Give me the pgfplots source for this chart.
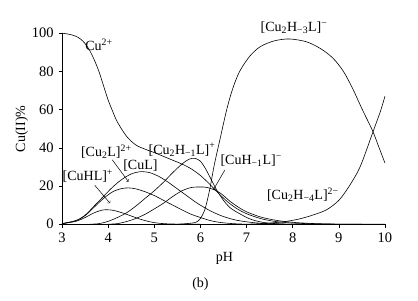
\documentclass[border=0pt]{standalone}
\usepackage{pgfplots}
\pgfplotsset{compat=1.18}
\usepackage{fontspec}
\setmainfont{Liberation Serif}
\begin{document}
\fontsize{14}{16}\selectfont
\begin{tikzpicture}
\begin{axis}[
  scale only axis, width=323pt, height=191pt,
  xmin=3, xmax=10, ymin=0, ymax=100,
  axis x line*=bottom, axis y line*=left,
  xtick={3,4,...,10}, ytick={0,20,...,100},
  tick align=outside, major tick length=3.5pt,
  tick style={black, line width=0.5pt},
  axis line style={line width=0.6pt},
  /pgf/number format/assume math mode=true,
  ticklabel style={font=\fontsize{14.5}{16}\selectfont},
  clip=false,
  cycle list={{black, solid, line width=0.6pt}},
  every axis plot post/.append style={black, solid, line width=0.6pt, smooth, mark=none},
]
\path (axis cs:1.656,-40.2) rectangle (axis cs:10.716,117.4);
% Cu2+
\addplot coordinates {(3,100)(3.1,99.7)(3.2,99.2)(3.3,98.4)(3.4,97)(3.5,94.6)(3.6,91)(3.7,86)(3.8,80)(3.9,72.5)(4.0,65)(4.1,59)(4.2,53.5)(4.4,46)(4.6,41.5)(4.8,39.3)(5.0,37.5)(5.2,35.5)(5.4,33.5)(5.6,31.5)(5.8,29)(6.0,25.5)(6.2,21)(6.4,16)(6.6,11.5)(6.8,8)(7.0,5.5)(7.3,3)(7.6,1.5)(8,0.6)(8.5,0.2)(9,0.05)(10,0)};
% CuHL+
\addplot coordinates {(3,0.3)(3.3,1.5)(3.5,3.5)(3.7,6)(3.9,7.5)(4.1,7.3)(4.3,6)(4.5,4.3)(4.7,2.6)(4.9,1.3)(5.1,0.5)(5.4,0.1)(6,0)};
% C
\addplot coordinates {(3,0.3)(3.3,1.8)(3.5,4.5)(3.7,9)(3.9,13.5)(4.1,17)(4.3,18.7)(4.45,19)(4.6,18.5)(4.8,17)(5,15)(5.2,12.5)(5.4,10)(5.6,7.5)(5.8,5.2)(6,3.5)(6.2,2)(6.4,1)(6.7,0.3)(7,0)};
% D
\addplot coordinates {(3,0.3)(3.3,1.9)(3.5,4.7)(3.7,9.6)(3.9,14.6)(4.1,19.5)(4.3,23.5)(4.5,26.3)(4.7,27.5)(4.9,27)(5.1,25)(5.3,22)(5.5,18.5)(5.7,15)(5.9,11.5)(6.1,8.5)(6.3,6)(6.5,4)(6.8,2)(7.2,0.7)(7.6,0.2)(8,0)};
% E [Cu2H-1L]+
\addplot coordinates {(3.6,0)(3.8,0.3)(4.0,1.5)(4.2,3.5)(4.4,6)(4.6,9.5)(4.8,13.5)(5.0,17.5)(5.2,22)(5.4,27)(5.6,31.5)(5.75,34)(5.88,34.5)(6.0,33)(6.1,29.5)(6.2,25)(6.35,18)(6.5,12.5)(6.65,8.5)(6.85,5.5)(7.1,2.5)(7.4,0.8)(7.8,0.1)(8.2,0)};
% F [CuH-1L]-
\addplot coordinates {(4.0,0)(4.2,0.3)(4.4,1.4)(4.6,3)(4.8,5.2)(5.0,8)(5.2,11)(5.4,14.5)(5.6,17.5)(5.8,19.2)(6.0,19.5)(6.15,19.2)(6.35,17.5)(6.5,15)(6.64,12)(6.85,8.5)(7.0,6.5)(7.3,3.8)(7.6,2.2)(7.8,1.5)(8.1,0.8)(8.5,0.3)(9,0.05)(9.5,0)};
% G [Cu2H-3L]-
\addplot coordinates {(5.5,0)(5.7,0.3)(5.9,1)(6.0,3)(6.1,8)(6.2,18)(6.3,31)(6.42,44)(6.57,60)(6.7,71)(6.85,80)(7.07,88)(7.3,93)(7.6,96)(7.93,97)(8.3,95.5)(8.6,92)(8.87,87)(9.1,80)(9.3,71)(9.5,60.5)(9.73,49)(9.85,41.5)(10,32)};
% H [Cu2H-4L]2-
\addplot coordinates {(7.0,0)(7.2,0.2)(7.5,0.6)(7.8,1.3)(8.1,2.5)(8.4,4.5)(8.73,7.5)(9.0,12.5)(9.2,19)(9.4,27)(9.52,33.6)(9.75,49)(9.9,59)(10,67)};
% labels
\node at (axis cs:3.8,94) {Cu\textsuperscript{2+}};
\node at (axis cs:8.03,103) {[Cu\textsubscript{2}H\textsubscript{−3}L]\textsuperscript{−}};
\node at (axis cs:3.96,37.8) {[Cu\textsubscript{2}L]\textsuperscript{2+}};
\node at (axis cs:4.70,30.5) {[CuL]};
\node at (axis cs:3.56,25.3) {[CuHL]\textsuperscript{+}};
\node at (axis cs:5.60,38.9) {[Cu\textsubscript{2}H\textsubscript{−1}L]\textsuperscript{+}};
\node at (axis cs:7.10,33.1) {[CuH\textsubscript{−1}L]\textsuperscript{−}};
\node at (axis cs:8.22,15.3) {[Cu\textsubscript{2}H\textsubscript{−4}L]\textsuperscript{2−}};
\draw[->, line width=0.5pt] (axis cs:4.09,33.7) -- (axis cs:4.44,22.3);
\draw[->, line width=0.5pt] (axis cs:3.71,20.4) -- (axis cs:4.04,11);
\draw[->, line width=0.5pt] (axis cs:6.53,28.4) -- (axis cs:6.28,18);
\node[rotate=90] at (axis cs:2.13,50) {Cu(II)\%};
\node at (axis cs:6.52,-18) {pH};
\node at (axis cs:6.0,-31.5) {(b)};
\end{axis}
\end{tikzpicture}
\end{document}
